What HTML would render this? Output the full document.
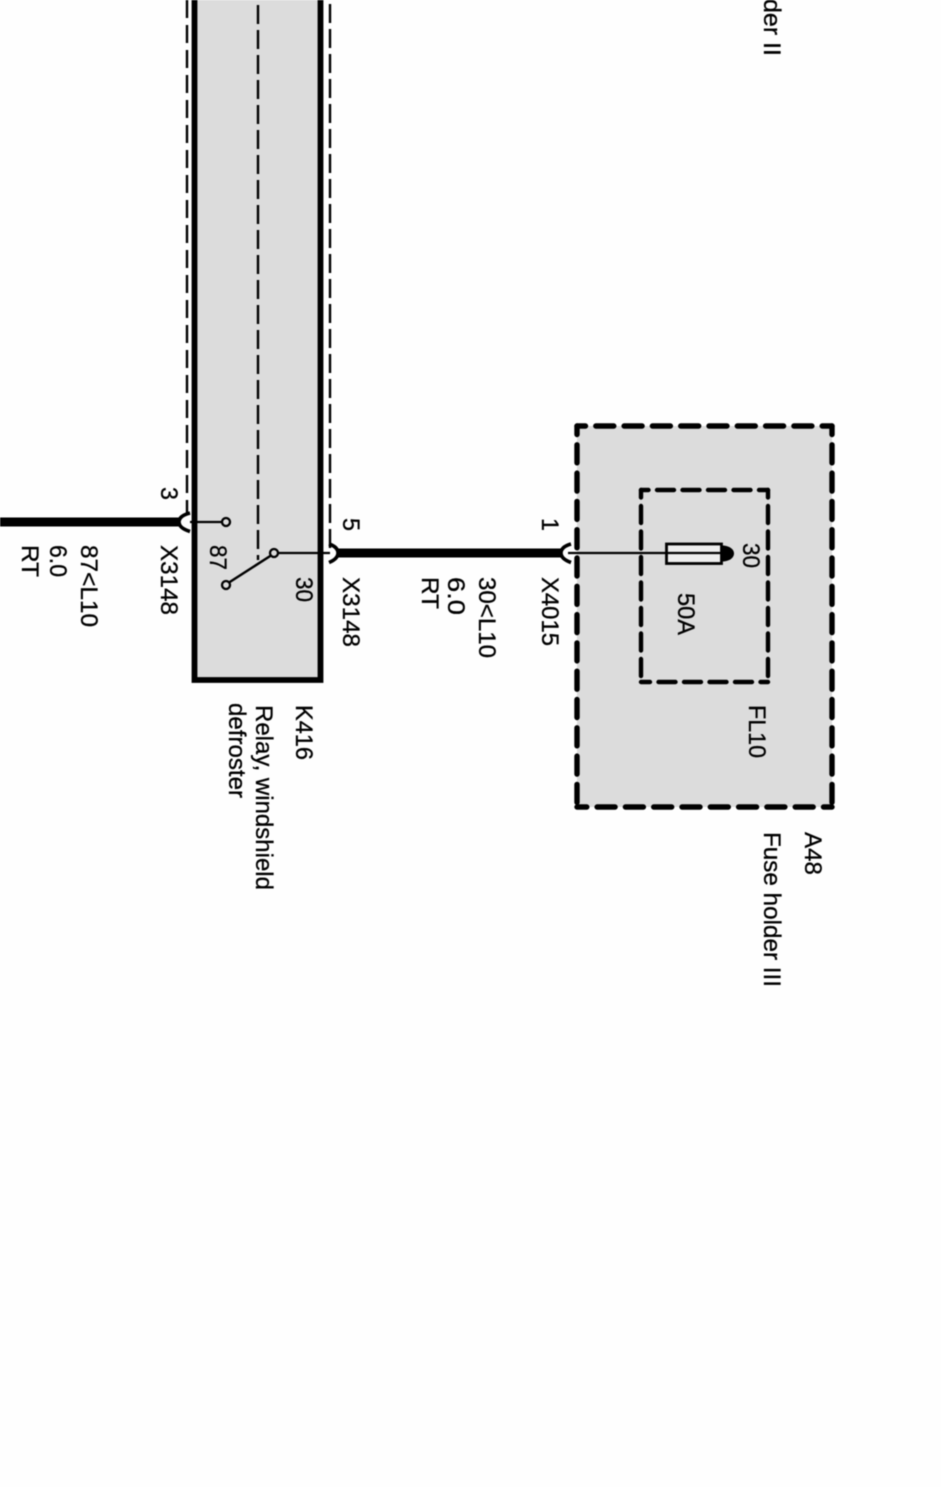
<!DOCTYPE html>
<html><head><meta charset="utf-8"><style>
html,body{margin:0;padding:0;background:#fefefe;width:941px;height:1487px;overflow:hidden}
svg{display:block;filter:blur(0.4px)}
text{font-family:"Liberation Sans",sans-serif;font-size:24.5px;fill:#000;stroke:#000;stroke-width:0.3px}
</style></head><body>
<svg width="941" height="1487" viewBox="0 0 941 1487" xmlns="http://www.w3.org/2000/svg">
<rect width="941" height="1487" fill="#fefefe"/>
<!-- Relay -->
<path d="M194.5 -10V680H320.5V-10Z" fill="#dcdcdc" stroke="#000" stroke-width="5.800"/>
<path d="M187 0V514" fill="none" stroke="#000" stroke-width="2.400" stroke-dasharray="18 7"/>
<path d="M330 548V0" fill="none" stroke="#000" stroke-width="2.400" stroke-dasharray="19 6"/>
<path d="M258 5V560" fill="none" stroke="#000" stroke-width="2.400" stroke-dasharray="19 6"/>
<!-- Wires -->
<path d="M0 522H179" stroke="#000" stroke-width="9" fill="none"/>
<path d="M337 553H562" stroke="#000" stroke-width="9" fill="none"/>
<path d="M190 513C182 515 179 518 179 522C179 526 182 529 190 531.500" stroke="#000" stroke-width="3.600" fill="none"/>
<path d="M329 544C335 546 338 549 338 553C338 557 335 560 329 562.500" stroke="#000" stroke-width="3.600" fill="none"/>
<path d="M571 544C564 546 561 549 561 553C561 557 564 560 571 562.500" stroke="#000" stroke-width="3.600" fill="none"/>
<path d="M190 522H222M278 553H330" stroke="#000" stroke-width="2.200" fill="none"/>
<path d="M229 582.500L271 555.500" stroke="#000" stroke-width="2.500" fill="none"/>
<circle cx="226" cy="522" r="4" fill="#dcdcdc" stroke="#000" stroke-width="2.300"/>
<circle cx="274" cy="553" r="4" fill="#dcdcdc" stroke="#000" stroke-width="2.300"/>
<circle cx="226" cy="585" r="4" fill="#dcdcdc" stroke="#000" stroke-width="2.300"/>
<!-- Fuse holder -->
<rect x="577" y="426" width="255" height="381" fill="#dcdcdc"/>
<g fill="none" stroke="#000" stroke-width="5.400" stroke-linecap="round" stroke-dasharray="18 10.300" stroke-dashoffset="9.500">
<path d="M577 426H832"/>
<path d="M577 426V807"/>
<path d="M832 426V807"/>
<path d="M832 807H577"/>
</g>
<g fill="none" stroke="#000" stroke-width="4.400" stroke-linecap="round" stroke-dasharray="17 8.500" stroke-dashoffset="9.500">
<path d="M641 490H768"/>
<path d="M641 490V682"/>
<path d="M768 490V682"/>
<path d="M768 682H641"/>
</g>
<!-- Fuse -->
<rect x="666.500" y="544" width="55" height="19.500" fill="#eeeeee" stroke="#000" stroke-width="2.800"/>
<path d="M722 545.500C729 545.500 734 549 734 553.500C734 558 729 561.500 722 561.500Z" fill="#000"/>
<path d="M568 553H722" stroke="#000" stroke-width="2.200" fill="none"/>
<!-- Labels -->
<text transform="translate(161 487) rotate(90)" textLength="13" lengthAdjust="spacingAndGlyphs">3</text>
<text transform="translate(161 545) rotate(90)" textLength="70" lengthAdjust="spacingAndGlyphs">X3148</text>
<text transform="translate(81 545) rotate(90)" textLength="82" lengthAdjust="spacingAndGlyphs">87&lt;L10</text>
<text transform="translate(50 545) rotate(90)" textLength="32" lengthAdjust="spacingAndGlyphs">6.0</text>
<text transform="translate(22 545) rotate(90)" textLength="32" lengthAdjust="spacingAndGlyphs">RT</text>
<text transform="translate(210 545) rotate(90)" textLength="25" lengthAdjust="spacingAndGlyphs">87</text>
<text transform="translate(296 577) rotate(90)" textLength="25" lengthAdjust="spacingAndGlyphs">30</text>
<text transform="translate(343 518) rotate(90)" textLength="13" lengthAdjust="spacingAndGlyphs">5</text>
<text transform="translate(343 577) rotate(90)" textLength="70" lengthAdjust="spacingAndGlyphs">X3148</text>
<text transform="translate(422 577) rotate(90)" textLength="32" lengthAdjust="spacingAndGlyphs">RT</text>
<text transform="translate(448 577) rotate(90)" textLength="38" lengthAdjust="spacingAndGlyphs">6.0</text>
<text transform="translate(479 577) rotate(90)" textLength="81" lengthAdjust="spacingAndGlyphs">30&lt;L10</text>
<text transform="translate(542 518) rotate(90)" textLength="13" lengthAdjust="spacingAndGlyphs">1</text>
<text transform="translate(542 577) rotate(90)" textLength="69" lengthAdjust="spacingAndGlyphs">X4015</text>
<text transform="translate(743 543) rotate(90)" textLength="25" lengthAdjust="spacingAndGlyphs">30</text>
<text transform="translate(678 593) rotate(90)" textLength="42" lengthAdjust="spacingAndGlyphs">50A</text>
<text transform="translate(749 705) rotate(90)" textLength="53" lengthAdjust="spacingAndGlyphs">FL10</text>
<text transform="translate(296 705) rotate(90)" textLength="55" lengthAdjust="spacingAndGlyphs">K416</text>
<text transform="translate(256 705) rotate(90)" textLength="185" lengthAdjust="spacingAndGlyphs">Relay, windshield</text>
<text transform="translate(229 703) rotate(90)" textLength="95" lengthAdjust="spacingAndGlyphs">defroster</text>
<text transform="translate(805 832) rotate(90)" textLength="43" lengthAdjust="spacingAndGlyphs">A48</text>
<text transform="translate(764 832) rotate(90)" textLength="155" lengthAdjust="spacingAndGlyphs">Fuse holder III</text>
<text transform="translate(764 -1) rotate(90)" textLength="57" lengthAdjust="spacingAndGlyphs">der II</text>
</svg>
</body></html>
